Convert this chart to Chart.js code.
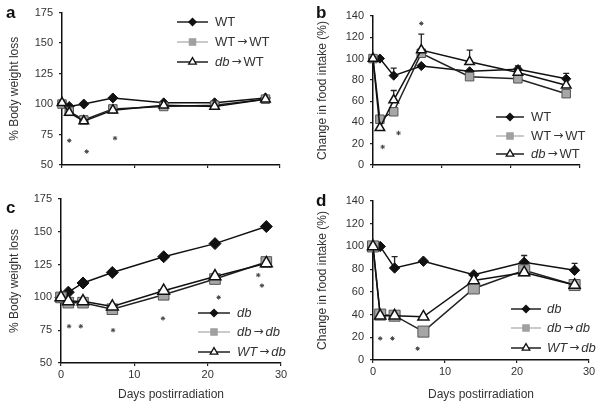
<!DOCTYPE html>
<html>
<head>
<meta charset="utf-8">
<script src="https://cdn.jsdelivr.net/npm/chart.js@4.4.1/dist/chart.umd.min.js"></script>
<style>
  html, body { margin: 0; padding: 0; background: #fff; }
  #wrap { position: relative; width: 601px; height: 406px; overflow: hidden; font-family: "Liberation Sans", Arial, sans-serif; }
  canvas { position: absolute; }
  .tag { position: absolute; font-weight: bold; font-size: 17px; line-height: 17px; color: #111; }
</style>
</head>
<body>
<div id="wrap">
  <canvas id="pa" width="300" height="185" style="left:0;top:0;width:300px;height:185px"></canvas>
  <canvas id="pb" width="301" height="185" style="left:300px;top:0;width:301px;height:185px"></canvas>
  <canvas id="pc" width="300" height="221" style="left:0;top:185px;width:300px;height:221px"></canvas>
  <canvas id="pd" width="301" height="221" style="left:300px;top:185px;width:301px;height:221px"></canvas>
  <div class="tag" style="left:6px;top:4px">a</div>
  <div class="tag" style="left:316px;top:4px">b</div>
  <div class="tag" style="left:6px;top:199px">c</div>
  <div class="tag" style="left:316px;top:192px">d</div>
</div>
<script>
// days measured after irradiation
const days = [0, 1, 3, 7, 14, 21, 28];

// a: body weight, WT recipients
const aWT = [100, 98, 100, 105, 101, 101, 105];
const aWTtoWT = [100, 94, 87, 96, 98, 99, 104];
const aDbToWT = [101, 93, 86, 95, 99, 98, 104];
const aStarX = [1, 3.4, 7.3];
const aStarY = [70, 61, 72];

// b: food intake, WT recipients
const bWT = [100, 100, 84, 93, 88, 90, 81];
const bWTtoWT = [100, 43, 50, 105, 83, 81, 67];
const bDbToWT = [100, 35, 61, 108, 97, 87, 75];
const bWTerr = [0, 0, 7, 0, 0, 3, 5];
const bDbToWTerr = [0, 0, 9, 15, 11, 0, 0];
const bStarX = [1.4, 3.7, 7.0];
const bStarY = [17, 30, 133];

// c: body weight, db recipients
const cDb = [100, 104, 111, 119, 131, 141, 154];
const cDbToDb = [100, 96, 96, 91, 102, 114, 127];
const cWTtoDb = [100, 97, 97, 93, 105, 116, 126];
const cStarX = [1.1, 2.7, 7.1, 13.9, 21.5, 26.9, 27.4];
const cStarY = [78, 78, 75, 84, 100, 117, 109];

// d: food intake, db recipients
const dDb = [100, 100, 81, 87, 75, 86, 79];
const dDbToDb = [100, 40, 39, 25, 63, 79, 66];
const dWTtoDb = [100, 39, 39, 38, 70, 77, 66];
const dDbErr = [0, 0, 10, 0, 0, 6, 6];
const dStarX = [1.0, 2.7, 6.2];
const dStarY = [19, 19, 10];

const FONT = '"Liberation Sans", Arial, sans-serif';
const TEXT = '#333';
Chart.defaults.font.family = FONT;

function pts(xs, ys) {
  return xs.map((x, i) => ({ x: x, y: ys[i] }));
}

function diamonds(label, vals, r, err) {
  return { label, data: pts(days, vals), errUp: err, order: 3, clip: false,
    borderColor: '#111', borderWidth: 1.5, pointStyle: 'rectRot', pointRadius: r,
    pointBackgroundColor: '#111', pointBorderColor: '#111', pointBorderWidth: 1 };
}
function squares(label, vals, r, err) {
  return { label, data: pts(days, vals), errUp: err, order: 2, clip: false,
    borderColor: '#222', borderWidth: 1.5, pointStyle: 'rect', pointRadius: r,
    pointBackgroundColor: '#a6a6a6', pointBorderColor: '#555', pointBorderWidth: 1 };
}
function triangles(label, vals, r, err) {
  return { label, data: pts(days, vals), errUp: err, order: 1, clip: false,
    borderColor: '#111', borderWidth: 1.5, pointStyle: 'triangle', pointRadius: r,
    pointBackgroundColor: '#fff', pointBorderColor: '#111', pointBorderWidth: 1.5 };
}
function stars(xs, ys) {
  return { label: '*', data: pts(xs, ys), showLine: false, order: 0, clip: false,
    pointStyle: 'star', pointRadius: 2.2, borderColor: '#444', pointBorderWidth: 1 };
}

// small error bars, upper side only
const errorBars = {
  id: 'errorBars',
  beforeDatasetsDraw(chart) {
    const { ctx, scales: { x, y } } = chart;
    chart.data.datasets.forEach(ds => {
      if (!ds.errUp) return;
      ds.errUp.forEach((e, i) => {
        if (!e) return;
        const p = ds.data[i];
        const px = x.getPixelForValue(p.x);
        const y0 = y.getPixelForValue(p.y);
        const y1 = y.getPixelForValue(p.y + e);
        ctx.save();
        ctx.strokeStyle = '#222';
        ctx.lineWidth = 1.3;
        ctx.beginPath();
        ctx.moveTo(px, y0); ctx.lineTo(px, y1);
        ctx.moveTo(px - 3, y1); ctx.lineTo(px + 3, y1);
        ctx.stroke();
        ctx.restore();
      });
    });
  }
};

// legend drawn inside the plot; part flags: 'i' italic, 'a' arrow glyph
const inlineLegend = {
  id: 'inlineLegend',
  afterDraw(chart, args, opts) {
    if (!opts || !opts.items) return;
    const ctx = chart.ctx;
    opts.items.forEach((item, i) => {
      const y = opts.rowY[i];
      const cx = (opts.x0 + opts.x1) / 2;
      ctx.save();
      ctx.strokeStyle = item.line;
      ctx.lineWidth = 1.4;
      ctx.beginPath();
      ctx.moveTo(opts.x0, y); ctx.lineTo(opts.x1, y);
      ctx.stroke();
      ctx.fillStyle = item.fill;
      ctx.strokeStyle = item.stroke;
      ctx.lineWidth = 1.3;
      Chart.helpers.drawPoint(ctx, { pointStyle: item.style, radius: item.r, borderWidth: 1.3, rotation: 0 }, cx, y);
      let tx = opts.textX;
      ctx.fillStyle = TEXT;
      ctx.textBaseline = 'middle';
      item.parts.forEach(([t, f]) => {
        if (f === 'a') {
          ctx.font = '12px "DejaVu Sans", sans-serif';
          tx += 2;
        } else {
          ctx.font = (f === 'i' ? 'italic ' : '') + '13px ' + FONT;
        }
        ctx.fillText(t, tx, y);
        tx += ctx.measureText(t).width + (f === 'a' ? 2 : 0);
      });
      ctx.restore();
    });
  }
};

function legendItems(names) {
  return [
    { parts: names[0], style: 'rectRot', r: 3.6, line: '#111', fill: '#111', stroke: '#111' },
    { parts: names[1], style: 'rect', r: 4.4, line: '#b4b4b4', fill: '#a0a0a0', stroke: '#a0a0a0' },
    { parts: names[2], style: 'triangle', r: 4.4, line: '#111', fill: '#fff', stroke: '#111' }
  ];
}

function panel(id, p) {
  const axisGrid = { display: true, drawOnChartArea: false, drawTicks: true, tickLength: 3, color: '#222', lineWidth: 1.2 };
  const axisBorder = { display: true, color: '#111', width: 1.5 };
  new Chart(document.getElementById(id), {
    type: 'line',
    data: { datasets: p.datasets },
    plugins: [errorBars, inlineLegend],
    options: {
      responsive: false,
      animation: false,
      layout: { padding: { left: 0, top: p.top, right: p.right, bottom: 0 } },
      plugins: {
        legend: { display: false },
        tooltip: { enabled: false },
        inlineLegend: p.legend
      },
      scales: {
        x: {
          type: 'linear', min: 0, max: 30,
          ticks: { display: p.xLabels, stepSize: 10, color: TEXT, font: { size: 11 }, padding: 2, maxRotation: 0 },
          grid: axisGrid,
          border: axisBorder,
          title: { display: p.xLabels, text: 'Days postirradiation', color: TEXT, font: { size: 12 }, padding: { top: 0, bottom: 4 } },
          afterFit: s => { s.height = p.xHeight; }
        },
        y: {
          min: p.yMin, max: p.yMax,
          ticks: { stepSize: p.yStep, color: TEXT, font: { size: 11 }, padding: 6 },
          grid: axisGrid,
          border: axisBorder,
          title: { display: true, text: p.yTitle, color: TEXT, font: { size: 12 }, padding: { top: p.yTitlePad, bottom: 0 } },
          afterFit: s => { s.width = p.yWidth; }
        }
      }
    }
  });
}

const wtNames = [[['WT']], [['WT'], ['\u2192', 'a'], ['WT']], [['db', 'i'], ['\u2192', 'a'], ['WT']]];
const dbNames = [[['db', 'i']], [['db', 'i'], ['\u2192', 'a'], ['db', 'i']], [['WT', 'i'], ['\u2192', 'a'], ['db', 'i']]];

panel('pa', {
  datasets: [
    stars(aStarX, aStarY),
    triangles('db → WT', aDbToWT, 5.5),
    squares('WT → WT', aWTtoWT, 6),
    diamonds('WT', aWT, 5)
  ],
  top: 12, right: 20, yWidth: 62, xHeight: 20, xLabels: false,
  yMin: 50, yMax: 175, yStep: 25, yTitle: '% Body weight loss', yTitlePad: 7,
  legend: { x0: 177, x1: 208, textX: 215, rowY: [22, 42, 62], items: legendItems(wtNames) }
});

panel('pb', {
  datasets: [
    stars(bStarX, bStarY),
    triangles('db → WT', bDbToWT, 5.5, bDbToWTerr),
    squares('WT → WT', bWTtoWT, 6),
    diamonds('WT', bWT, 4.6, bWTerr)
  ],
  top: 16, right: 21, yWidth: 73, xHeight: 20, xLabels: false,
  yMin: 0, yMax: 140, yStep: 20, yTitle: 'Change in food intake (%)', yTitlePad: 15,
  legend: { x0: 196, x1: 224, textX: 231, rowY: [117, 136, 154], items: legendItems(wtNames) }
});

panel('pc', {
  datasets: [
    stars(cStarX, cStarY),
    triangles('WT → db', cWTtoDb, 6.8),
    squares('db → db', cDbToDb, 7.5),
    diamonds('db', cDb, 6)
  ],
  top: 14, right: 19, yWidth: 61, xHeight: 43, xLabels: true,
  yMin: 50, yMax: 175, yStep: 25, yTitle: '% Body weight loss', yTitlePad: 7,
  legend: { x0: 198, x1: 230, textX: 237, rowY: [128, 147, 167], items: legendItems(dbNames) }
});

panel('pd', {
  datasets: [
    stars(dStarX, dStarY),
    triangles('WT → db', dWTtoDb, 6.4),
    squares('db → db', dDbToDb, 7.8),
    diamonds('db', dDb, 5.2, dDbErr)
  ],
  top: 16, right: 12, yWidth: 73, xHeight: 46, xLabels: true,
  yMin: 0, yMax: 140, yStep: 20, yTitle: 'Change in food intake (%)', yTitlePad: 15,
  legend: { x0: 211, x1: 241, textX: 247, rowY: [124, 143, 163], items: legendItems(dbNames) }
});
</script>
</body>
</html>
